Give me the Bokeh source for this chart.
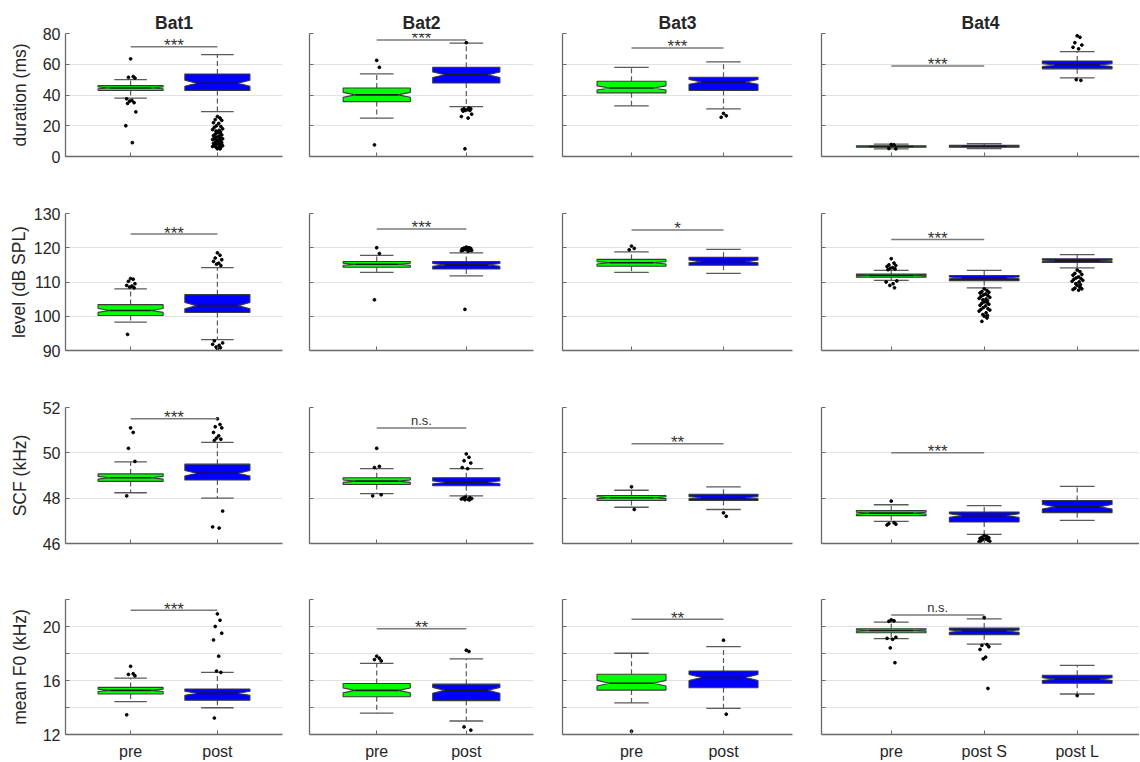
from bokeh.plotting import figure
from bokeh.models import Range1d, FixedTicker, Label, Title
from bokeh.layouts import column, row
from bokeh.embed import file_html
from bokeh.resources import INLINE

# ---------------- data ----------------
bats = ["Bat1", "Bat2", "Bat3", "Bat4"]
cats_pair = ["pre", "post"]
cats_bat4 = ["pre", "post S", "post L"]

row_labels = ["duration (ms)", "level (dB SPL)", "SCF (kHz)", "mean F0 (kHz)"]
y_lims = [(0, 80), (90, 130), (46, 52), (12, 22)]
y_ticks = [[0, 20, 40, 60, 80], [90, 100, 110, 120, 130], [46, 48, 50, 52], [12, 14, 16, 18, 20, 22]]
y_unlabelled = [[], [], [], [14, 18, 22]]

# duration (ms)
dur_q1 = [[42.9, 42.9], [35.7, 47.8], [41.4, 42.9], [6.0, 6.0, 57.0]]
dur_med = [[44.6, 47.6], [40.1, 53.2], [44.6, 48.5], [6.5, 6.7, 59.5]]
dur_q3 = [[46.1, 53.7], [44.6, 58.0], [48.9, 51.5], [7.0, 7.3, 62.1]]
dur_wlo = [[38.0, 29.2], [24.9, 32.5], [32.9, 31.0], [5.0, 5.2, 51.1]]
dur_whi = [[50.0, 66.2], [53.7, 73.8], [58.0, 61.5], [8.0, 8.3, 68.2]]
dur_out = [
    [[63.5, 52.0, 51.5, 51.0, 37.5, 36.5, 36.0, 35.0, 34.5, 29.0, 20.0, 9.0],
     [26.0, 25.0, 24.0, 23.5, 22.0, 21.5, 20.0, 19.5, 19.0, 18.0, 17.5, 17.0, 16.5, 16.0,
      15.5, 15.0, 14.5, 14.0, 13.5, 13.0, 12.5, 12.0, 12.0, 11.5, 11.0, 11.0, 10.5, 10.0,
      10.0, 9.5, 9.0, 9.0, 8.5, 8.0, 8.0, 7.5, 7.0, 7.0, 6.5, 6.0, 6.0, 5.5, 5.0, 5.0]],
    [[62.5, 58.0, 7.5],
     [74.0, 31.5, 31.0, 31.0, 30.5, 30.5, 30.0, 30.0, 29.5, 27.5, 26.0, 25.0, 5.0]],
    [[], [28.0, 26.5, 25.5]],
    [[7.8, 7.5, 5.2, 5.0], [], [78.5, 77.5, 74.0, 72.5, 71.0, 70.0, 50.0, 49.5]],
]
dur_sig = [71.4, 75.8, 70.6, 58.9]
dur_sig_txt = ["***", "***", "***", "***"]

# level (dB SPL)
lvl_q1 = [[100.2, 101.1], [114.3, 113.8], [114.6, 114.9], [111.4, 110.4, 115.7]]
lvl_med = [[101.7, 103.1], [115.2, 115.0], [115.6, 116.0], [111.9, 111.2, 116.2]]
lvl_q3 = [[103.4, 106.3], [116.0, 116.0], [116.6, 117.2], [112.3, 111.9, 116.8]]
lvl_wlo = [[98.3, 93.2], [112.8, 111.8], [112.8, 112.5], [110.5, 108.3, 114.1]]
lvl_whi = [[108.0, 114.2], [117.8, 118.5], [118.8, 119.5], [113.4, 113.4, 118.0]]
lvl_out = [
    [[111.0, 110.8, 110.2, 109.5, 109.0, 108.8, 108.5, 108.3, 94.7],
     [118.5, 117.8, 117.0, 116.5, 116.0, 115.5, 115.2, 114.8, 92.8, 92.2, 91.8, 91.5, 91.0, 90.8, 90.5]],
    [[120.0, 118.3, 104.8],
     [120.2, 120.0, 119.9, 119.8, 119.7, 119.6, 119.5, 119.4, 119.3, 119.2, 119.1, 119.0, 102.0]],
    [[120.5, 119.8, 119.4], []],
    [[116.8, 115.5, 115.0, 114.8, 114.5, 114.2, 114.0, 113.8, 113.6, 110.3, 110.0, 109.5, 109.0, 108.3],
     [108.0, 107.5, 107.2, 107.0, 106.8, 106.5, 106.2, 106.0, 105.8, 105.5, 105.2, 105.0, 104.8, 104.5,
      104.2, 104.0, 103.8, 103.5, 103.2, 103.0, 102.5, 102.2, 102.0, 101.8, 101.5, 101.0, 100.5, 100.2,
      100.0, 99.5, 98.5],
     [113.5, 113.0, 112.5, 112.2, 112.0, 111.5, 111.2, 111.0, 110.8, 110.5, 110.2, 110.0, 109.5, 109.2,
      109.0, 108.5, 108.2, 108.0, 107.8, 107.6]],
]
lvl_sig = [124.0, 125.5, 125.2, 122.4]
lvl_sig_txt = ["***", "***", "*", "***"]

# SCF (kHz)
scf_q1 = [[48.74, 48.8], [48.6, 48.55], [47.9, 47.9], [47.23, 46.95, 47.36]]
scf_med = [[48.9, 49.1], [48.75, 48.7], [48.02, 48.02], [47.34, 47.23, 47.62]]
scf_q3 = [[49.07, 49.5], [48.9, 48.9], [48.12, 48.17], [47.45, 47.39, 47.9]]
scf_wlo = [[48.24, 48.0], [48.2, 48.1], [47.6, 47.5], [46.98, 46.4, 47.02]]
scf_whi = [[49.6, 50.46], [49.3, 49.3], [48.35, 48.5], [47.71, 47.67, 48.52]]
scf_out = [
    [[51.1, 50.9, 50.2, 49.62, 48.1],
     [51.5, 51.25, 51.15, 51.1, 50.9, 50.75, 50.65, 50.6, 50.55, 47.43, 46.73, 46.68]],
    [[50.2, 49.4, 49.35, 48.15, 48.1],
     [49.95, 49.8, 49.65, 49.55, 49.35, 49.3, 48.05, 48.02, 48.0, 47.98, 47.96, 47.95, 47.93, 47.92]],
    [[48.5, 47.5], [47.35, 47.2]],
    [[47.87, 46.92, 46.88, 46.85, 46.82],
     [46.35, 46.3, 46.27, 46.25, 46.22, 46.2, 46.18, 46.15, 46.12, 46.1, 46.08],
     []],
]
scf_sig = [51.5, 51.1, 50.4, 50.0]
scf_sig_txt = ["***", "n.s.", "**", "***"]

# mean F0 (kHz)
f0_q1 = [[15.0, 14.54], [14.8, 14.51], [15.29, 15.46], [19.54, 19.39, 15.8]]
f0_med = [[15.27, 15.05], [15.27, 15.27], [15.8, 16.22], [19.7, 19.66, 16.1]]
f0_q3 = [[15.49, 15.37], [15.78, 15.73], [16.46, 16.7], [19.83, 19.88, 16.39]]
f0_wlo = [[14.44, 13.98], [13.58, 13.0], [14.34, 13.93], [19.1, 18.7, 15.0]]
f0_whi = [[16.17, 16.6], [17.27, 17.6], [18.02, 18.51], [20.32, 20.56, 17.12]]
f0_out = [
    [[17.05, 16.5, 16.45, 16.35, 13.46],
     [20.93, 20.46, 20.0, 19.5, 19.0, 17.8, 16.7, 16.6, 13.22]],
    [[17.8, 17.65, 17.55, 17.45], [18.24, 18.15, 12.56, 12.32]],
    [[12.24], [18.98, 13.5]],
    [[20.49, 20.42, 20.38, 19.2, 19.12, 19.05, 18.41, 17.32],
     [20.66, 18.66, 18.6, 18.5, 18.3, 17.73, 17.6, 15.41],
     [14.88]],
]
f0_sig = [21.2, 19.83, 20.54, 20.85]
f0_sig_txt = ["***", "**", "**", "n.s."]

metrics = [
    (dur_q1, dur_med, dur_q3, dur_wlo, dur_whi, dur_out, dur_sig, dur_sig_txt),
    (lvl_q1, lvl_med, lvl_q3, lvl_wlo, lvl_whi, lvl_out, lvl_sig, lvl_sig_txt),
    (scf_q1, scf_med, scf_q3, scf_wlo, scf_whi, scf_out, scf_sig, scf_sig_txt),
    (f0_q1, f0_med, f0_q3, f0_wlo, f0_whi, f0_out, f0_sig, f0_sig_txt),
]

# ---------------- styling / layout ----------------
FONT = "Liberation Sans"
TXT = "#262626"
AXC = "#6a6a6a"
GREEN = "#00ff00"
BLUE = "#0000ff"
JIT = [0.0, 0.03, -0.025, 0.05, -0.045, 0.015, -0.01, 0.04, -0.035, 0.06, -0.055, 0.02, -0.015, 0.035]

# column canvases: (width, min_border_left, min_border_right, x_end)
col_geo = [(300, 65, 18, 2.75), (250, 9, 17, 2.75), (256, 12, 14, 2.75), (333, 15, 0, 3.67)]
# row canvases: (height, min_border_top, min_border_bottom)
row_geo = [(185, 33, 29), (195, 28, 30), (192, 27, 29), (190, 27, 26)]
ylabel_standoff = [10, 2, 10, 10]

HW = 0.375   # half box width
ND = 0.135   # notch depth


def make_panel(r, c):
    q1s, meds, q3s, wlos, whis, outs, sigs, sigt = metrics[r]
    W, bl, br, xend = col_geo[c]
    H, bt, bb = row_geo[r]
    lo, hi = y_lims[r]
    cats = cats_bat4 if c == 3 else cats_pair
    p = figure(width=W, height=H, x_range=Range1d(0.25, xend), y_range=Range1d(lo, hi),
               output_backend="svg", toolbar_location=None,
               min_border_left=bl, min_border_right=br, min_border_top=bt, min_border_bottom=bb)
    p.outline_line_color = None
    p.background_fill_color = "white"
    p.border_fill_color = "white"
    p.xgrid.visible = False
    p.ygrid.grid_line_color = "#e2e2e2"
    p.ygrid.grid_line_width = 1

    if r == 0:
        p.add_layout(Title(text=bats[c], align="center", standoff=2, text_font=FONT,
                           text_font_size="17.5px", text_font_style="bold",
                           text_color=TXT, offset=4 if c == 3 else 0), "above")

    # axes
    p.yaxis.ticker = FixedTicker(ticks=y_ticks[r])
    p.xaxis.ticker = FixedTicker(ticks=list(range(1, len(cats) + 1)))
    for ax in (p.xaxis, p.yaxis):
        ax.axis_line_color = AXC
        ax.axis_line_width = 1.3
        ax.major_tick_line_color = AXC
        ax.major_tick_in = 4
        ax.major_tick_out = 0
        ax.minor_tick_in = 0
        ax.minor_tick_out = 0
        ax.major_label_text_font = FONT
        ax.major_label_text_font_size = "16px"
        ax.major_label_text_color = TXT
    if c == 0:
        p.yaxis.major_label_overrides = {t: "" for t in y_unlabelled[r]}
        p.yaxis.major_label_standoff = 5
        p.yaxis.axis_label = row_labels[r]
        p.yaxis.axis_label_text_font = FONT
        p.yaxis.axis_label_text_font_size = "17.5px"
        p.yaxis.axis_label_text_font_style = "normal"
        p.yaxis.axis_label_text_color = TXT
        p.yaxis.axis_label_standoff = ylabel_standoff[r]
    else:
        p.yaxis.major_label_overrides = {t: "" for t in y_ticks[r]}
        p.yaxis.major_label_standoff = 0
    if r == 3:
        p.xaxis.major_label_overrides = {i + 1: cats[i] for i in range(len(cats))}
        p.xaxis.major_label_standoff = 8
    else:
        p.xaxis.major_label_overrides = {i + 1: "" for i in range(len(cats))}
        p.xaxis.major_label_standoff = 0

    # boxes
    xs_poly, ys_poly, fills = [], [], []
    mx0, mx1, my = [], [], []
    wx, wy0, wy1 = [], [], []
    cx0, cx1, cy = [], [], []
    ox, oy = [], []
    for i in range(len(cats)):
        x = i + 1
        q1, md, q3 = q1s[c][i], meds[c][i], q3s[c][i]
        nh = 0.18 * (q3 - q1)
        xs_poly.append([x - HW, x + HW, x + HW, x + HW - ND, x + HW, x + HW,
                        x - HW, x - HW, x - HW + ND, x - HW])
        ys_poly.append([q1, q1, md - nh, md, md + nh, q3, q3, md + nh, md, md - nh])
        fills.append(GREEN if i == 0 else BLUE)
        mx0.append(x - HW + ND)
        mx1.append(x + HW - ND)
        my.append(md)
        wx += [x, x]
        wy0 += [q3, q1]
        wy1 += [whis[c][i], wlos[c][i]]
        cx0 += [x - HW / 2, x - HW / 2]
        cx1 += [x + HW / 2, x + HW / 2]
        cy += [whis[c][i], wlos[c][i]]
        for k, v in enumerate(outs[c][i]):
            ox.append(x + JIT[k % len(JIT)])
            oy.append(v)

    p.segment(x0=wx, y0=wy0, x1=wx, y1=wy1, line_color="#5a5a5a", line_width=1.2, line_dash="5 3")
    p.segment(x0=cx0, y0=cy, x1=cx1, y1=cy, line_color="#5a5a5a", line_width=1.3)
    p.patches(xs=xs_poly, ys=ys_poly, fill_color=fills, line_color="#3a3a3a", line_width=1.1)
    p.segment(x0=mx0, y0=my, x1=mx1, y1=my, line_color="#1a1a1a", line_width=1.6)
    p.scatter(x=ox, y=oy, size=2.8, color="black")

    # significance
    p.segment(x0=[1], y0=[sigs[c]], x1=[2], y1=[sigs[c]], line_color="#7a7a7a", line_width=1.5)
    star = "*" in sigt[c]
    p.add_layout(Label(x=1.5, y=sigs[c], text=sigt[c], text_align="center",
                       text_baseline="middle" if star else "bottom",
                       y_offset=1 if star else 0,
                       text_font=FONT, text_font_size="17px" if star else "13px",
                       text_color="#333333"))
    return p


rows = []
for r in range(4):
    rows.append(row(*[make_panel(r, c) for c in range(4)], spacing=0))
layout = column(*rows, spacing=0)

open("out.html", "w").write(file_html(layout, INLINE))
